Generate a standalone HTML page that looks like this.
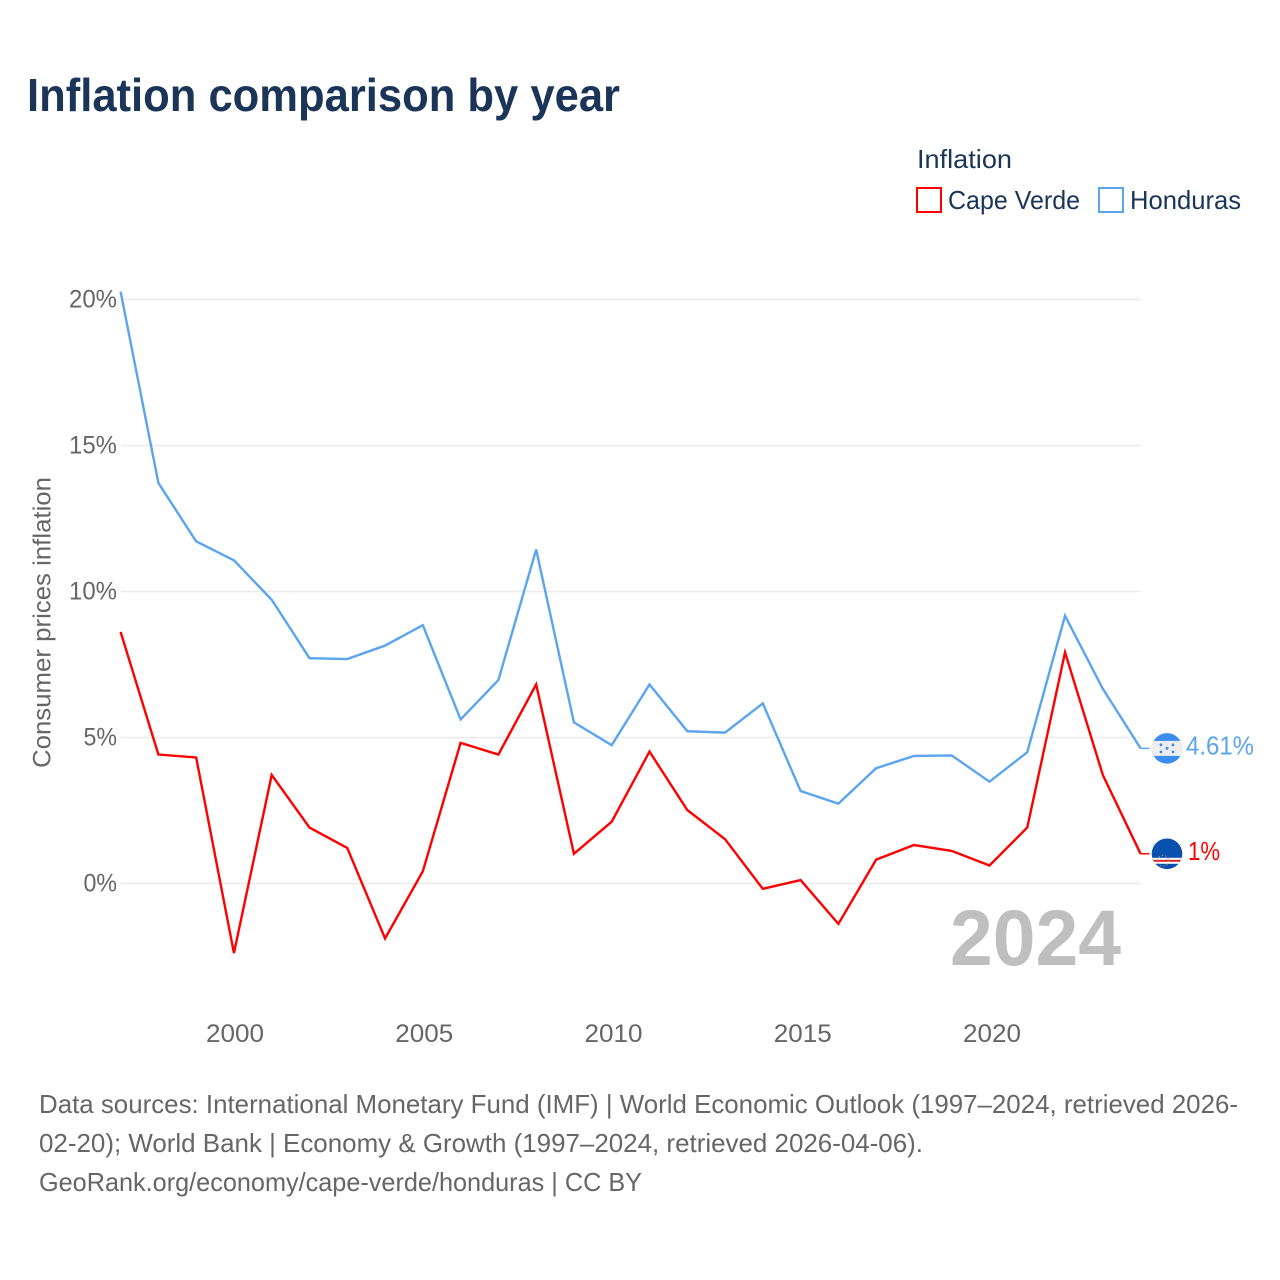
<!DOCTYPE html>
<html lang="en">
<head>
<meta charset="utf-8">
<title>Inflation comparison by year</title>
<style>
html,body{margin:0;padding:0;background:#fff;}
svg{display:block;}
text{font-family:"Liberation Sans",sans-serif;}
</style>
</head>
<body>
<svg id="chart" xmlns="http://www.w3.org/2000/svg" width="1280" height="1280" viewBox="0 0 1280 1280">
  <rect width="1280" height="1280" fill="#ffffff"/>
  <text x="27" y="111" font-size="46" font-weight="700" fill="#1a3557" textLength="593" lengthAdjust="spacingAndGlyphs">Inflation comparison by year</text>

  <g>
    <text x="917" y="168" font-size="26" fill="#1a3557" textLength="95" lengthAdjust="spacingAndGlyphs">Inflation</text>
    <g>
      <rect x="917" y="188" width="24" height="24" fill="none" stroke="#ff0000" stroke-width="2"/>
      <text x="948" y="209" font-size="26" fill="#1a3557" textLength="132" lengthAdjust="spacingAndGlyphs">Cape Verde</text>
    </g>
    <g>
      <rect x="1099" y="188" width="24" height="24" fill="none" stroke="#5ba4ee" stroke-width="2"/>
      <text x="1130" y="209" font-size="26" fill="#1a3557" textLength="111" lengthAdjust="spacingAndGlyphs">Honduras</text>
    </g>
  </g>

  <text transform="translate(50.5,768) rotate(-90)" x="0" y="0" font-size="25" fill="#666666" textLength="291" lengthAdjust="spacingAndGlyphs">Consumer prices inflation</text>

  <g id="grid"></g>
  <g id="yticks"></g>
  <g id="xticks"></g>

  <text x="950" y="965" font-size="79" font-weight="700" fill="#bfbfbf" textLength="171" lengthAdjust="spacingAndGlyphs">2024</text>

  <g id="series"></g>

  <defs>
    <clipPath id="flag-clip"><circle cx="0" cy="0" r="15.3"/></clipPath>
  </defs>

  <g id="flag-honduras">
    <g clip-path="url(#flag-clip)">
      <rect x="-16" y="-16" width="32" height="32" fill="#3b8df0"/>
      <rect x="-16" y="-7.5" width="32" height="15" fill="#eeeeee"/>
      <circle cx="0" cy="0" r="1.5" fill="#3b8df0"/>
      <circle cx="-6" cy="-3.5" r="1.4" fill="#3b8df0"/>
      <circle cx="6" cy="-3.5" r="1.4" fill="#3b8df0"/>
      <circle cx="-6" cy="3.5" r="1.4" fill="#3b8df0"/>
      <circle cx="6" cy="3.5" r="1.4" fill="#3b8df0"/>
    </g>
  </g>
  <g id="flag-cape-verde">
    <g clip-path="url(#flag-clip)">
      <rect x="-16" y="-16" width="32" height="32" fill="#0a50ae"/>
      <rect x="-16" y="4" width="32" height="6" fill="#ffffff"/>
      <rect x="-16" y="6" width="32" height="2" fill="#d8262c"/>
      <circle cx="-4" cy="7" r="5.5" fill="none" stroke="#c9a94a" stroke-width="1" stroke-dasharray="1.5 2" opacity="0.8"/>
    </g>
  </g>

  <text id="label-honduras" x="1186" font-size="26" fill="#5ba4ee" textLength="68" lengthAdjust="spacingAndGlyphs"></text>
  <text id="label-cape-verde" x="1188" font-size="26" fill="#ff0000" textLength="32" lengthAdjust="spacingAndGlyphs"></text>

  <g font-size="26" fill="#666666">
    <text x="39" y="1113" textLength="1199" lengthAdjust="spacingAndGlyphs">Data sources: International Monetary Fund (IMF) | World Economic Outlook (1997–2024, retrieved 2026-</text>
    <text x="39" y="1152" textLength="884" lengthAdjust="spacingAndGlyphs">02-20); World Bank | Economy &amp; Growth (1997–2024, retrieved 2026-04-06).</text>
    <text x="39" y="1191" textLength="603" lengthAdjust="spacingAndGlyphs">GeoRank.org/economy/cape-verde/honduras | CC BY</text>
  </g>
</svg>

<script>
const years = [1997,1998,1999,2000,2001,2002,2003,2004,2005,2006,2007,2008,2009,2010,2011,2012,2013,2014,2015,2016,2017,2018,2019,2020,2021,2022,2023,2024];
const capeVerdeValues = [8.6,4.4,4.3,-2.4,3.7,1.9,1.2,-1.9,0.4,4.8,4.4,6.8,1.0,2.1,4.5,2.5,1.5,-0.2,0.1,-1.4,0.8,1.3,1.1,0.6,1.9,7.9,3.7,1];
const hondurasValues = [20.25,13.7,11.7,11.05,9.7,7.7,7.67,8.13,8.83,5.6,6.95,11.42,5.5,4.72,6.8,5.2,5.15,6.15,3.15,2.72,3.93,4.35,4.37,3.47,4.48,9.15,6.65,4.61];
const yTickValues = [0,5,10,15,20];
const xTickValues = [2000,2005,2010,2015,2020];

const SVG_NS = 'http://www.w3.org/2000/svg';
function xScale(year){ return 120.6 + (year - 1997) * (1020 / 27); }
function yScale(value){ return 883 - value * 29.2; }
function gridY(value){ return 883.5 - value * 29.2; }
function xLabelLeft(year){ return 206 + (year - 2000) * 37.85; }

const gridGroup = document.getElementById('grid');
const yTickGroup = document.getElementById('yticks');
const xTickGroup = document.getElementById('xticks');
const seriesGroup = document.getElementById('series');

yTickValues.forEach(function(value){
  const line = document.createElementNS(SVG_NS, 'line');
  
  
  line.setAttribute('x1', 121);
  line.setAttribute('x2', 1141);
  line.setAttribute('y1', gridY(value));
  line.setAttribute('y2', gridY(value));
  line.setAttribute('stroke', '#ebebeb');
  line.setAttribute('stroke-width', '1.4');
  gridGroup.appendChild(line);

  const label = document.createElementNS(SVG_NS, 'text');
  
  
  const content = value + '%';
  const labelWidth = 19 + 14.5 * (content.length - 1);
  label.setAttribute('x', 117 - labelWidth);
  label.setAttribute('y', gridY(value) + 8);
  label.setAttribute('font-size', '25');
  label.setAttribute('fill', '#666666');
  label.setAttribute('textLength', labelWidth);
  label.setAttribute('lengthAdjust', 'spacingAndGlyphs');
  label.textContent = content;
  yTickGroup.appendChild(label);
});

xTickValues.forEach(function(year){
  const label = document.createElementNS(SVG_NS, 'text');
  
  
  label.setAttribute('x', xLabelLeft(year));
  label.setAttribute('y', 1042);
  label.setAttribute('font-size', '25');
  label.setAttribute('fill', '#666666');
  label.setAttribute('textLength', '58');
  label.setAttribute('lengthAdjust', 'spacingAndGlyphs');
  label.textContent = year;
  xTickGroup.appendChild(label);
});

function linePoints(values){
  return values.map(function(value, i){
    return xScale(years[i]).toFixed(2) + ',' + yScale(value).toFixed(2);
  }).join(' ');
}

function lastOf(values){ return values[values.length - 1]; }

const hondurasLine = document.createElementNS(SVG_NS, 'polyline');


hondurasLine.setAttribute('points', linePoints(hondurasValues));
hondurasLine.setAttribute('fill', 'none');
hondurasLine.setAttribute('stroke', '#5ba4ee');
hondurasLine.setAttribute('stroke-width', '2.4');
hondurasLine.setAttribute('stroke-linejoin', 'miter');
seriesGroup.appendChild(hondurasLine);

const capeVerdeLine = document.createElementNS(SVG_NS, 'polyline');


capeVerdeLine.setAttribute('points', linePoints(capeVerdeValues));
capeVerdeLine.setAttribute('fill', 'none');
capeVerdeLine.setAttribute('stroke', '#ff0000');
capeVerdeLine.setAttribute('stroke-width', '2.4');
capeVerdeLine.setAttribute('stroke-linejoin', 'miter');
seriesGroup.appendChild(capeVerdeLine);

const hondurasLeader = document.createElementNS(SVG_NS, 'line');


hondurasLeader.setAttribute('x1', xScale(2024));
hondurasLeader.setAttribute('x2', xScale(2024) + 9);
hondurasLeader.setAttribute('y1', yScale(lastOf(hondurasValues)));
hondurasLeader.setAttribute('y2', yScale(lastOf(hondurasValues)));
hondurasLeader.setAttribute('stroke', '#5ba4ee');
hondurasLeader.setAttribute('stroke-width', '1.4');
seriesGroup.appendChild(hondurasLeader);

const capeVerdeLeader = document.createElementNS(SVG_NS, 'line');


capeVerdeLeader.setAttribute('x1', xScale(2024));
capeVerdeLeader.setAttribute('x2', xScale(2024) + 9);
capeVerdeLeader.setAttribute('y1', yScale(lastOf(capeVerdeValues)));
capeVerdeLeader.setAttribute('y2', yScale(lastOf(capeVerdeValues)));
capeVerdeLeader.setAttribute('stroke', '#ff0000');
capeVerdeLeader.setAttribute('stroke-width', '1.4');
seriesGroup.appendChild(capeVerdeLeader);

document.getElementById('flag-honduras').setAttribute('transform', 'translate(' + (xScale(2024) + 26.4) + ',' + yScale(lastOf(hondurasValues)) + ')');
document.getElementById('flag-cape-verde').setAttribute('transform', 'translate(' + (xScale(2024) + 26.4) + ',' + yScale(lastOf(capeVerdeValues)) + ')');

const hondurasLabel = document.getElementById('label-honduras');
hondurasLabel.setAttribute('y', yScale(lastOf(hondurasValues)) + 6);
hondurasLabel.textContent = lastOf(hondurasValues) + '%';

const capeVerdeLabel = document.getElementById('label-cape-verde');
capeVerdeLabel.setAttribute('y', yScale(lastOf(capeVerdeValues)) + 6);
capeVerdeLabel.textContent = lastOf(capeVerdeValues) + '%';
</script>
</body>
</html>
